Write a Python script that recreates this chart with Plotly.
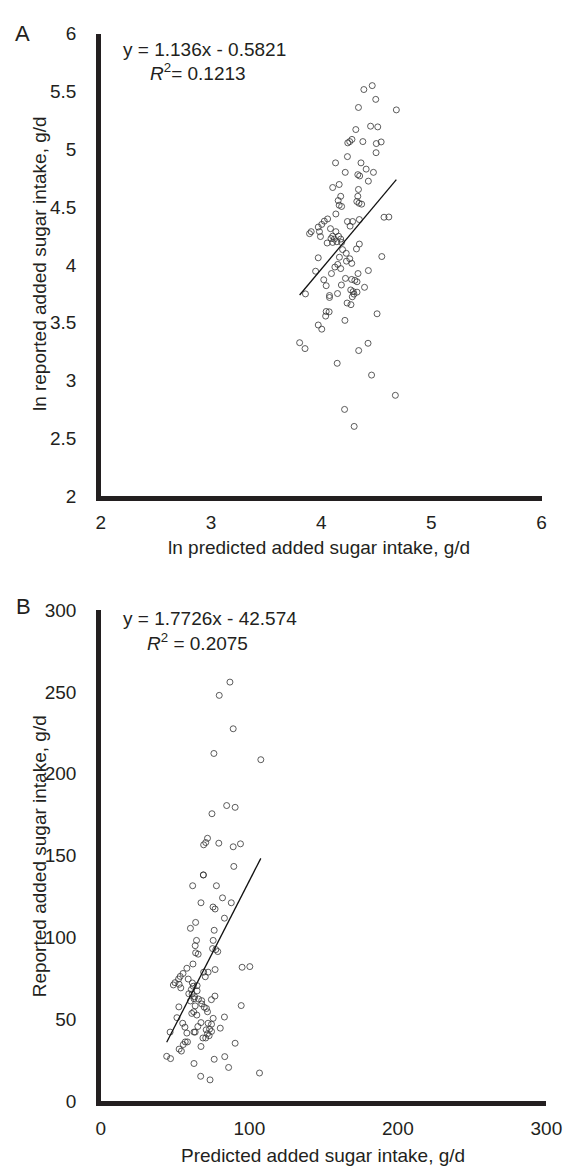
import plotly.graph_objects as go

# ---------- Panel A data (ln scale) ----------
a_pred = [4.387, 4.463, 4.495, 4.338, 4.682, 4.448, 4.513, 4.314, 4.279, 4.259,
          4.241, 4.378, 4.500, 4.544, 4.498, 4.238, 4.130, 4.361, 4.218, 4.408,
          4.474, 4.332, 4.349, 4.428, 4.104, 4.163, 4.338, 4.177, 4.154, 4.332,
          4.323, 4.343, 4.367, 4.163, 4.185, 4.133, 4.570, 4.614, 4.346, 4.238,
          4.285, 4.262, 4.058, 4.028, 4.005, 3.973, 3.984, 3.909, 3.894, 3.993,
          4.084, 4.133, 4.104, 4.157, 4.119, 4.089, 4.177, 4.054, 4.104, 4.142,
          4.185, 4.346, 4.194, 4.320, 4.227, 4.550, 3.973, 4.165, 4.259, 4.277,
          4.229, 4.150, 4.124, 4.177, 3.949, 4.093, 4.334, 4.428, 4.220, 4.023,
          4.045, 4.276, 4.305, 4.325, 4.183, 4.393, 4.268, 4.290, 4.325, 4.297,
          3.857, 4.075, 4.075, 4.148, 4.282, 4.235, 4.270, 4.045, 4.072, 4.040,
          4.507, 4.215, 3.973, 4.005, 3.804, 3.853, 4.425, 4.340, 4.145, 4.457,
          4.673, 4.212, 4.299]
a_rep = [5.516, 5.550, 5.431, 5.361, 5.340, 5.199, 5.193, 5.170, 5.085, 5.066,
         5.055, 5.066, 5.049, 5.063, 4.970, 4.936, 4.882, 4.882, 4.800, 4.828,
         4.800, 4.780, 4.769, 4.724, 4.669, 4.695, 4.652, 4.593, 4.556, 4.593,
         4.548, 4.533, 4.525, 4.516, 4.505, 4.440, 4.412, 4.414, 4.392, 4.375,
         4.375, 4.335, 4.397, 4.378, 4.350, 4.327, 4.287, 4.287, 4.270, 4.245,
         4.313, 4.287, 4.248, 4.248, 4.223, 4.228, 4.223, 4.189, 4.194, 4.200,
         4.194, 4.180, 4.132, 4.138, 4.100, 4.072, 4.061, 4.066, 4.053, 4.013,
         4.032, 4.004, 3.981, 3.968, 3.945, 3.925, 3.925, 3.951, 3.883, 3.871,
         3.820, 3.874, 3.866, 3.854, 3.826, 3.806, 3.783, 3.769, 3.764, 3.747,
         3.749, 3.735, 3.718, 3.752, 3.724, 3.670, 3.656, 3.597, 3.594, 3.557,
         3.577, 3.520, 3.480, 3.444, 3.327, 3.276, 3.322, 3.259, 3.149, 3.047,
         2.872, 2.750, 2.603]
a_slope, a_intercept = 1.136, -0.5821
a_eq = "y = 1.136x - 0.5821"
a_r2 = "<i>R</i><sup>2</sup>= 0.1213"

# ---------- Panel B data (g/d) ----------
b_pred = [86.9, 79.7, 89.1, 76.1, 107.7, 84.7, 90.4, 74.8, 71.8, 70.6,
          69.2, 79.4, 89.1, 94.0, 89.5, 69.0, 69.0, 61.8, 77.8, 81.9,
          67.4, 87.8, 75.5, 76.9, 83.2, 63.8, 60.3, 76.3, 64.4, 63.5,
          75.6, 75.2, 77.4, 78.7, 63.8, 65.5, 62.0, 95.1, 100.3, 76.9,
          57.9, 55.3, 53.4, 52.3, 49.9, 48.8, 52.7, 53.8, 58.8, 69.2,
          72.2, 70.3, 61.6, 62.2, 64.8, 64.8, 60.9, 59.2, 61.4, 63.1,
          65.7, 67.9, 62.7, 60.3, 74.4, 76.8, 94.5, 52.5, 67.9, 69.6,
          71.1, 63.5, 62.5, 61.2, 64.6, 71.8, 51.2, 83.2, 75.6, 55.1,
          56.6, 67.4, 72.2, 74.5, 65.3, 80.4, 70.9, 73.2, 74.5, 46.6,
          57.9, 62.7, 63.5, 71.8, 72.9, 68.7, 70.6, 56.8, 58.3, 55.5,
          90.4, 67.4, 52.7, 54.2, 44.3, 46.9, 83.4, 76.3, 62.7, 86.0,
          106.8, 67.2, 73.5]
b_rep = [256.0, 247.9, 227.5, 212.4, 208.6, 180.6, 179.5, 175.6, 160.6, 158.0,
         156.6, 157.6, 155.4, 157.2, 143.4, 138.2, 138.2, 131.6, 131.6, 124.2,
         121.2, 121.2, 118.6, 117.4, 111.8, 109.2, 105.6, 104.4, 98.2, 95.0,
         98.2, 93.2, 92.6, 91.4, 90.6, 89.8, 83.8, 81.8, 82.2, 80.4,
         81.2, 78.0, 76.2, 74.6, 72.4, 71.0, 71.4, 69.2, 74.6, 78.8,
         78.8, 76.0, 72.2, 70.2, 70.6, 67.4, 68.2, 65.6, 65.4, 63.8,
         62.4, 61.4, 62.6, 61.2, 62.0, 64.2, 58.4, 57.6, 59.4, 57.4,
         56.6, 58.2, 54.6, 53.6, 52.6, 54.6, 51.0, 51.4, 50.6, 47.6,
         45.2, 48.0, 47.6, 47.0, 45.6, 44.6, 43.6, 44.0, 42.6, 42.2,
         41.6, 42.2, 42.2, 41.2, 40.0, 38.6, 38.6, 36.2, 36.2, 34.6,
         35.4, 33.4, 31.8, 30.6, 27.4, 26.0, 27.2, 25.6, 23.0, 20.6,
         17.2, 15.2, 13.0]
b_slope, b_intercept = 1.7726, -42.574
b_eq = "y = 1.7726x - 42.574"
b_r2 = "<i>R</i><sup>2</sup> = 0.2075"

a_ticks = [2, 2.5, 3, 3.5, 4, 4.5, 5, 5.5, 6]
a_xticks = [2, 3, 4, 5, 6]
b_ticks = [0, 50, 100, 150, 200, 250, 300]
b_xticks = [0, 100, 200, 300]

W, H = 580, 1176
INK = "#231f20"
FONT = "Liberation Sans, Arial, Helvetica, sans-serif"
FS = 19


def px_x(p):
    return p / W


def px_y(p):
    return (H - p) / H


fig = go.Figure()

marker = dict(symbol="circle-open", size=6, color="#333333", line=dict(width=0.8, color="#333333"))

fig.add_trace(go.Scatter(x=a_pred, y=a_rep, mode="markers", marker=marker,
                         xaxis="x", yaxis="y", showlegend=False, hoverinfo="skip"))
ax0, ax1 = min(a_pred), max(a_pred)
fig.add_trace(go.Scatter(x=[ax0, ax1], y=[a_slope * ax0 + a_intercept, a_slope * ax1 + a_intercept],
                         mode="lines", line=dict(color="#111", width=1.3),
                         xaxis="x", yaxis="y", showlegend=False, hoverinfo="skip"))

fig.add_trace(go.Scatter(x=b_pred, y=b_rep, mode="markers", marker=marker,
                         xaxis="x2", yaxis="y2", showlegend=False, hoverinfo="skip"))
bx0, bx1 = min(b_pred), max(b_pred)
fig.add_trace(go.Scatter(x=[bx0, bx1], y=[b_slope * bx0 + b_intercept, b_slope * bx1 + b_intercept],
                         mode="lines", line=dict(color="#111", width=1.3),
                         xaxis="x2", yaxis="y2", showlegend=False, hoverinfo="skip"))

common = dict(showline=True, linecolor=INK, linewidth=4.5, showgrid=False, zeroline=False,
              ticks="", tickfont=dict(family=FONT, size=FS, color=INK), fixedrange=True)

fig.update_layout(
    width=W, height=H,
    margin=dict(l=0, r=0, t=0, b=0),
    paper_bgcolor="white", plot_bgcolor="white",
    font=dict(family=FONT, size=FS, color=INK),
    xaxis=dict(domain=[px_x(99.5), px_x(556.7)], range=[2, 6], tickvals=a_xticks,
               ticktext=[str(v) for v in a_xticks], anchor="y", ticklabelstandoff=5, **common),
    yaxis=dict(domain=[px_y(495), px_y(24)], range=[2, 6], tickvals=a_ticks,
               ticktext=[f"{v:g}" for v in a_ticks], anchor="x", ticklabelstandoff=16, **common),
    xaxis2=dict(domain=[px_x(99.5), px_x(561.7)], range=[0, 300], tickvals=b_xticks,
                ticktext=[str(v) for v in b_xticks], anchor="y2", ticklabelstandoff=6, **common),
    yaxis2=dict(domain=[px_y(1111), px_y(611)], range=[0, 300], tickvals=b_ticks,
                ticktext=[str(v) for v in b_ticks], anchor="x2", ticklabelstandoff=16, **common),
)

ann = []


def text(t, x, y, xanchor="center", size=FS, angle=0):
    ann.append(dict(text=t, x=px_x(x), y=px_y(y), xref="paper", yref="paper",
                    xanchor=xanchor, yanchor="middle", showarrow=False, textangle=angle,
                    font=dict(family=FONT, size=size, color=INK)))


text("A", 18, 24, size=22)
text("B", 19, 607, size=22)
text(a_eq, 120, 40, xanchor="left")
text(a_r2, 148, 63, xanchor="left")
text(b_eq, 120, 620, xanchor="left")
text(b_r2, 145, 643, xanchor="left")
text("ln predicted added sugar intake, g/d", 326, 547)
text("ln reported added sugar intake, g/d", 36, 258, angle=-90)
text("Predicted added sugar intake, g/d", 330, 1166)
text("Reported added sugar intake, g/d", 36, 862, angle=-90)

fig.update_layout(annotations=ann)

fig.write_html(
    "out.html",
    config={"displayModeBar": False, "responsive": False},
    post_script="document.body.style.margin='0';document.body.style.padding='0';"
                "document.body.style.overflow='hidden';"
                "document.documentElement.style.overflow='hidden';",
)
